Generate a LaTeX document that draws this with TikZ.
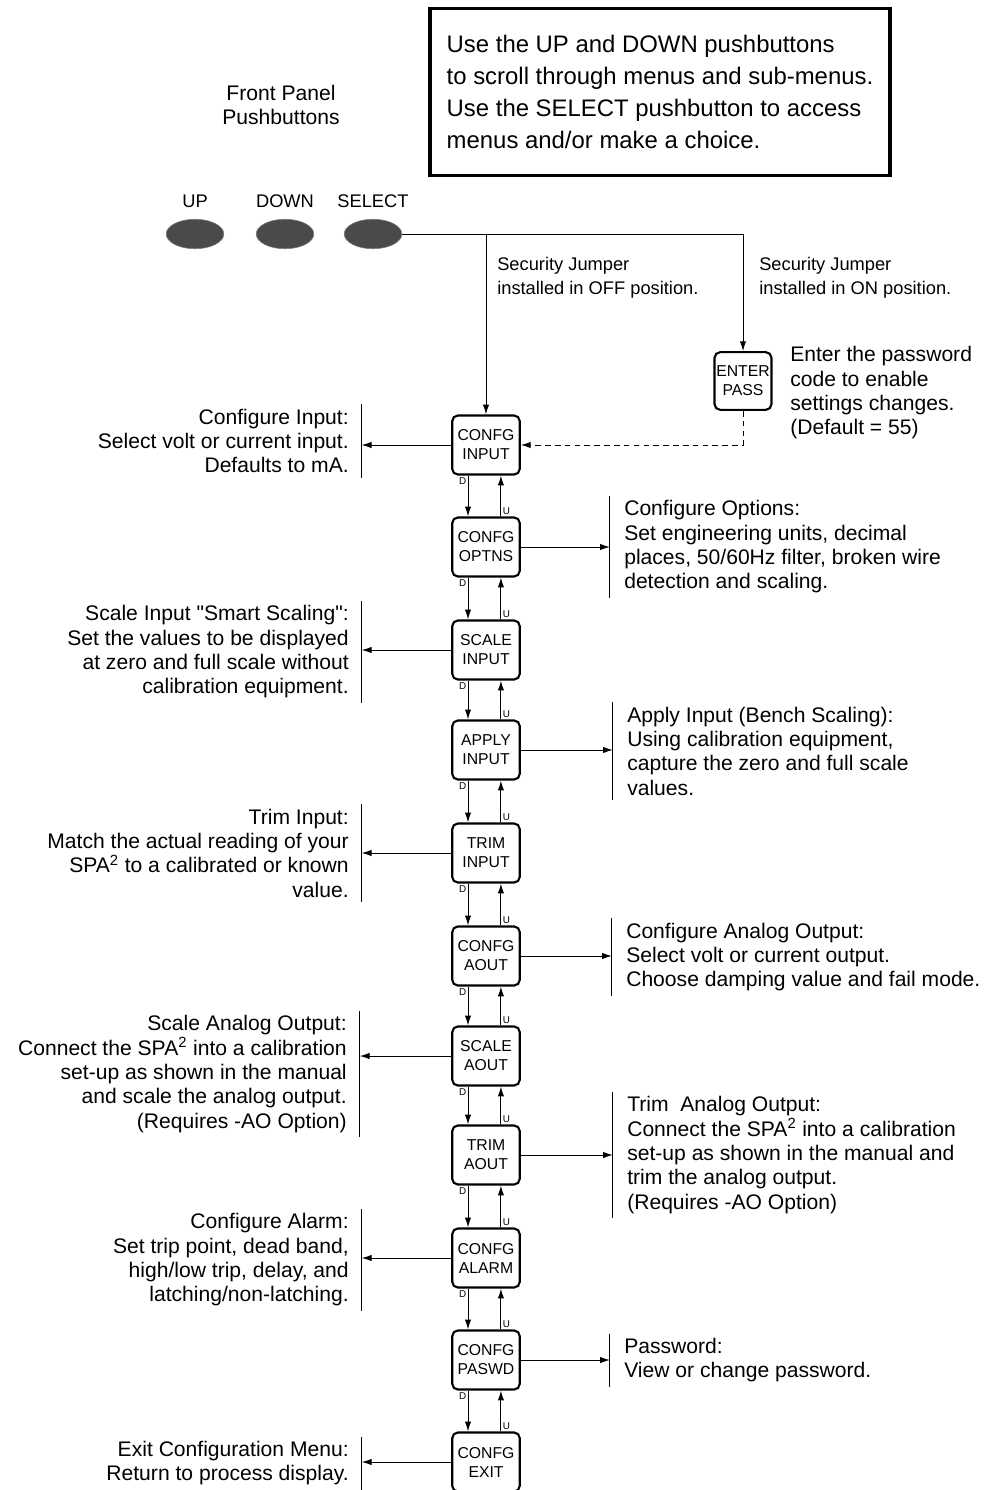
\documentclass[tikz,border=0pt]{standalone}
\usepackage{fontspec}
\setmainfont{Liberation Sans}
\usetikzlibrary{shapes.geometric,arrows.meta,positioning}

\definecolor{btngray}{HTML}{4A4A4A}
\newcommand{\descfont}{\fontsize{15}{17.3}\selectfont}

\tikzset{
  menu/.style={draw, line width=1.5pt, rounded corners=4pt, minimum width=48pt,
    minimum height=42pt, inner sep=0pt, align=center, font=\fontsize{11.2}{13.5}\selectfont},
  descl/.style={anchor=east, align=right, inner sep=0pt, font=\descfont},
  descr/.style={anchor=west, align=left, inner sep=0pt, font=\descfont},
  jumper/.style={anchor=west, align=left, inner sep=0pt, font=\fontsize{13}{17}\selectfont},
  btn/.style={ellipse, fill=btngray, draw=gray, line width=0.4pt, minimum width=41pt, minimum height=21pt},
  btnlabel/.style={inner sep=0pt, font=\fontsize{13}{15}\selectfont},
  tag/.style={inner sep=1pt, font=\fontsize{7}{8}\selectfont},
  arr/.style={-{Latex[length=7pt,width=4.5pt]}, line width=0.7pt},
}

\begin{document}
\begin{tikzpicture}[x=0.025cm, y=-0.025cm]
	\useasboundingbox (0,0) rectangle (987,1490);

	% help note and push buttons
	\node[draw, line width=2.5pt, minimum width=327pt, minimum height=119pt,
		align=left, font=\fontsize{17}{22.7}\selectfont] (note) at (660,92)
		{Use the UP and DOWN pushbuttons\\to scroll through menus and sub-menus.\\Use the SELECT pushbutton to access\\menus and/or make a choice.};
	\node[align=center, inner sep=0pt, font=\fontsize{15}{17.7}\selectfont] (front) at (281,105) {Front Panel\\Pushbuttons};

	\node[btn] (up) at (195,234) {};
	\node[btn] (down) at (285,234) {};
	\node[btn] (sel) at (373,234) {};
	\node[btnlabel, above=8pt of up] (uplbl) {UP};
	\node[btnlabel, above=8pt of down] (downlbl) {DOWN};
	\node[btnlabel, above=8pt of sel] (sellbl) {SELECT};

	\node[jumper] (offtxt) at (497,278) {Security Jumper\\installed in OFF position.};
	\node[jumper] (ontxt) at (759,278) {Security Jumper\\installed in ON position.};

	% menu chain
	\node[menu] (cin) at (486,445) {CONFG\\INPUT};
	\node[menu] (copt) at (486,547) {CONFG\\OPTNS};
	\node[menu] (sin) at (486,650) {SCALE\\INPUT};
	\node[menu] (ain) at (486,750) {APPLY\\INPUT};
	\node[menu] (tin) at (486,853) {TRIM\\INPUT};
	\node[menu] (caout) at (486,956) {CONFG\\AOUT};
	\node[menu] (saout) at (486,1056) {SCALE\\AOUT};
	\node[menu] (taout) at (486,1155) {TRIM\\AOUT};
	\node[menu] (calrm) at (486,1258) {CONFG\\ALARM};
	\node[menu] (cpwd) at (486,1360) {CONFG\\PASWD};
	\node[menu] (cexit) at (486,1462) {CONFG\\EXIT};

	\node[menu, minimum width=40.5pt, minimum height=41pt] (pass) at (743,381) {ENTER\\PASS};
	\node[descr] (passtxt) at (790,393) {Enter the password\\code to enable\\settings changes.\\(Default = 55)};

	% descriptions
	\node[descl] (lin) at (349,441) {Configure Input:\\Select volt or current input.\\Defaults to mA.};
	\node[descl] (lsin) at (349,652) {Scale Input \textquotedbl Smart Scaling\textquotedbl:\\Set the values to be displayed\\at zero and full scale without\\calibration equipment.};
	\node[descl] (ltin) at (349,853) {Trim Input:\\Match the actual reading of your\\SPA\textsuperscript{2} to a calibrated or known\\value.};
	\node[descl] (lsaout) at (347,1074) {Scale Analog Output:\\Connect the SPA\textsuperscript{2} into a calibration\\set-up as shown in the manual\\and scale the analog output.\\(Requires -AO Option)};
	\node[descl] (lalrm) at (349,1260) {Configure Alarm:\\Set trip point, dead band,\\high/low trip, delay, and\\latching/non-latching.};
	\node[descl] (lexit) at (349,1463) {Exit Configuration Menu:\\Return to process display.};

	\node[descr] (ropt) at (624,547) {Configure Options:\\Set engineering units, decimal\\places, 50/60Hz filter, broken wire\\detection and scaling.};
	\node[descr] (rain) at (627,751) {Apply Input (Bench Scaling):\\Using calibration equipment,\\capture the zero and full scale\\values.};
	\node[descr] (rcaout) at (626,957) {Configure Analog Output:\\Select volt or current output.\\Choose damping value and fail mode.};
	\node[descr] (rtaout) at (627,1155) {Trim\ \ Analog Output:\\Connect the SPA\textsuperscript{2} into a calibration\\set-up as shown in the manual and\\trim the analog output.\\(Requires -AO Option)};
	\node[descr] (rpwd) at (624,1360) {Password:\\View or change password.};

	% brackets
	\foreach \t in {lin, lsin, ltin, lsaout, lalrm, lexit}
		\draw[line width=0.7pt] ([xshift=9pt,yshift=3pt]\t.north east) coordinate (\t-b) -- ([xshift=9pt,yshift=-3pt]\t.south east);
	\foreach \t in {ropt, rain, rcaout, rtaout, rpwd}
		\draw[line width=0.7pt] ([xshift=-10pt,yshift=3pt]\t.north west) coordinate (\t-b) -- ([xshift=-10pt,yshift=-3pt]\t.south west);

	% select line
	\coordinate (split) at (sel.east -| cin);
	\draw[arr] (sel.east) -| (pass.north);
	\draw[arr] (split) -- (cin.north);
	\draw[arr, dash pattern=on 4pt off 3pt] (pass.south) |- (cin.east);

	% up and down
	\foreach \a/\b in {cin/copt, copt/sin, sin/ain, ain/tin, tin/caout, caout/saout, saout/taout, taout/calrm, calrm/cpwd, cpwd/cexit} {
		\draw[arr] ([xshift=-12.8pt]\a.south) -- ([xshift=-12.8pt]\b.north) node[tag, pos=0, anchor=north east] {D};
		\draw[arr] ([xshift=10.6pt]\b.north) -- ([xshift=10.6pt]\a.south) node[tag, pos=0, anchor=south west] {U};
	}

	\foreach \m/\t in {cin/lin, sin/lsin, tin/ltin, saout/lsaout, calrm/lalrm, cexit/lexit}
		\draw[arr] (\m.west) -- (\m.west -| \t-b);
	\foreach \m/\t in {copt/ropt, ain/rain, caout/rcaout, taout/rtaout, cpwd/rpwd}
		\draw[arr] (\m.east) -- (\m.east -| \t-b);
\end{tikzpicture}
\end{document}
